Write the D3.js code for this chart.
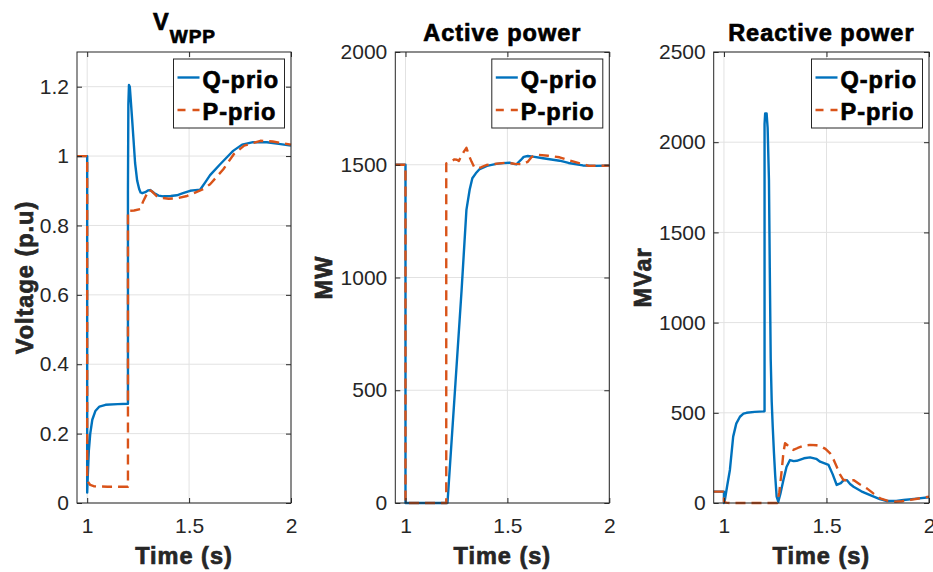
<!DOCTYPE html>
<html><head><meta charset="utf-8">
<script src="https://cdn.jsdelivr.net/npm/d3@7"></script>
<style>body{margin:0;background:#fff}</style>
</head><body><svg id="c" width="933" height="572"></svg>
<script>
// ---------- data ----------
const xDomain = [0.95, 2];
const xTicks = [1, 1.5, 2];
const voltTicks = [0, 0.2, 0.4, 0.6, 0.8, 1, 1.2];
const activeTicks = [0, 500, 1000, 1500, 2000];
const reactiveTicks = [0, 500, 1000, 1500, 2000, 2500];
const seriesNames = ["Q-prio", "P-prio"];

// [time (s), value]
const voltQ = [[0.95,1.0],[1.0,1.0],[1.0,0.03],[1.003,0.08],[1.008,0.15],[1.015,0.2],[1.025,0.24],[1.04,0.265],[1.06,0.278],[1.09,0.283],[1.15,0.285],[1.2,0.286],
 [1.2,0.9],[1.202,1.15],[1.205,1.205],[1.209,1.2],[1.214,1.16],[1.22,1.11],[1.227,1.05],[1.235,0.98],[1.245,0.93],[1.255,0.905],[1.262,0.895],[1.27,0.893],
 [1.285,0.896],[1.298,0.901],[1.309,0.902],[1.33,0.893],[1.35,0.886],[1.374,0.884],[1.41,0.885],[1.44,0.887],[1.47,0.893],[1.505,0.9],[1.53,0.902],[1.554,0.903],
 [1.58,0.925],[1.603,0.945],[1.65,0.975],[1.701,1.006],[1.716,1.015],[1.76,1.033],[1.814,1.04],[1.882,1.04],[1.94,1.035],[2.0,1.03]];
const voltP = [[0.95,1.0],[1.0,1.0],[1.0,0.066],[1.005,0.06],[1.015,0.052],[1.035,0.048],[1.1,0.047],[1.2,0.047],[1.2,0.842],[1.23,0.843],[1.26,0.847],
 [1.275,0.87],[1.292,0.89],[1.305,0.903],[1.32,0.897],[1.34,0.885],[1.358,0.88],[1.40,0.877],[1.44,0.878],[1.49,0.885],[1.538,0.897],[1.57,0.905],
 [1.603,0.919],[1.635,0.94],[1.668,0.962],[1.72,1.006],[1.77,1.03],[1.85,1.044],[1.91,1.042],[1.96,1.037],[2.0,1.033]];

const activeQ = [[0.95,1500],[1.0,1500],[1.0,0],[1.206,0],[1.245,530],[1.275,940],[1.299,1300],[1.315,1390],[1.328,1440],[1.345,1462],[1.364,1481],
 [1.40,1495],[1.446,1504],[1.48,1507],[1.511,1509],[1.53,1504],[1.544,1502],[1.565,1520],[1.58,1535],[1.6,1539],[1.625,1536],[1.675,1529],[1.756,1518],
 [1.8,1508],[1.87,1497],[1.93,1495],[2.0,1496]];
const activeP = [[0.95,1500],[1.0,1500],[1.0,0],[1.2,0],[1.2,1506],[1.22,1512],[1.24,1524],[1.252,1522],[1.262,1517],[1.272,1536],[1.285,1556],[1.299,1575],
 [1.312,1540],[1.324,1514],[1.336,1492],[1.348,1484],[1.37,1488],[1.397,1499],[1.45,1505],[1.495,1509],[1.54,1504],[1.576,1502],[1.601,1514],[1.62,1535],
 [1.642,1545],[1.7,1540],[1.756,1533],[1.8,1520],[1.9,1495],[2.0,1496]];

const reactiveQ = [[0.95,63],[1.0,63],[1.0,0],[1.005,20],[1.015,90],[1.029,183],[1.045,368],[1.06,440],[1.078,478],[1.095,495],[1.11,500],[1.15,505],[1.198,508],
 [1.198,2100],[1.201,2160],[1.208,2160],[1.213,2080],[1.2195,1790],[1.2235,1300],[1.228,800],[1.233,560],[1.238,420],[1.244,275],[1.25,150],[1.257,35],[1.265,7],
 [1.275,50],[1.29,127],[1.305,200],[1.322,238],[1.34,232],[1.355,234],[1.39,248],[1.42,253],[1.45,245],[1.469,229],[1.51,211],[1.53,160],[1.55,100],[1.57,110],
 [1.585,128],[1.599,127],[1.615,105],[1.632,90],[1.67,65],[1.713,44],[1.76,22],[1.795,11],[1.84,12],[1.876,17],[1.94,24],[2.0,32]];
const reactiveP = [[0.95,63],[1.0,63],[1.0,8],[1.01,2],[1.03,0],[1.26,0],[1.27,60],[1.282,183],[1.29,280],[1.298,331],[1.31,320],[1.325,300],[1.338,294],
 [1.36,305],[1.39,318],[1.42,322],[1.45,320],[1.469,316],[1.495,300],[1.518,275],[1.535,240],[1.55,201],[1.565,160],[1.583,127],[1.61,125],[1.632,127],
 [1.66,105],[1.697,81],[1.73,52],[1.762,26],[1.8,12],[1.827,7],[1.87,10],[1.909,17],[1.95,25],[2.0,35]];

// ---------- layout ----------
const FONT = '"Liberation Sans", Arial, Helvetica, sans-serif';
const TXT = '#262626';
const BLUE = '#0072BD', ORANGE = '#D95319';
const TOP = 52, BOTTOM = 503;
const panels = [
  {left:77, width:214, yMax:1.3, ticks:voltTicks, Q:voltQ, P:voltP, ylabel:"Voltage (p.u)", ylabX:33, title:null},
  {left:395.3, width:214, yMax:2000, ticks:activeTicks, Q:activeQ, P:activeP, ylabel:"MW", ylabX:332, title:"Active power"},
  {left:713.7, width:215.3, yMax:2500, ticks:reactiveTicks, Q:reactiveQ, P:reactiveP, ylabel:"MVar", ylabX:651, title:"Reactive power"}
];

const svg = d3.select('#c');
svg.append('rect').attr('width',933).attr('height',572).attr('fill','#fff');

panels.forEach(p => {
  const right = p.left + p.width;
  const x = d3.scaleLinear().domain(xDomain).range([p.left, right]);
  const y = d3.scaleLinear().domain([0, p.yMax]).range([BOTTOM, TOP]);
  const g = svg.append('g');

  // grid
  g.append('g').selectAll('line').data(p.ticks).join('line')
    .attr('x1', p.left).attr('x2', right).attr('y1', d => y(d)).attr('y2', d => y(d))
    .attr('stroke', '#e2e2e2').attr('stroke-width', 1);
  g.append('g').selectAll('line').data(xTicks).join('line')
    .attr('y1', TOP).attr('y2', BOTTOM).attr('x1', d => x(d)).attr('x2', d => x(d))
    .attr('stroke', '#e2e2e2').attr('stroke-width', 1);

  // lines
  const line = d3.line().x(d => x(d[0])).y(d => y(d[1]));
  g.append('path').attr('d', line(p.Q)).attr('fill','none').attr('stroke',BLUE)
    .attr('stroke-width',2.4).attr('stroke-linejoin','round');
  g.append('path').attr('d', line(p.P)).attr('fill','none').attr('stroke',ORANGE)
    .attr('stroke-width',2.4).attr('stroke-dasharray','10,6').attr('stroke-linejoin','round');

  // axes
  const styleAxis = sel => {
    sel.select('.domain').remove();
    sel.selectAll('.tick line').attr('stroke', TXT);
    sel.selectAll('.tick text').attr('fill', TXT).style('font-family', FONT).style('font-size','21px');
  };
  g.append('g').attr('transform',`translate(${p.left},0)`)
    .call(d3.axisLeft(y).tickValues(p.ticks).tickSizeInner(-5).tickSizeOuter(0).tickPadding(8).tickFormat(d => String(d)))
    .call(styleAxis);
  g.append('g').attr('transform',`translate(${right},0)`)
    .call(d3.axisRight(y).tickValues(p.ticks).tickSizeInner(-5).tickSizeOuter(0).tickFormat(''))
    .call(styleAxis);
  g.append('g').attr('transform',`translate(0,${BOTTOM})`)
    .call(d3.axisBottom(x).tickValues(xTicks).tickSizeInner(-5).tickSizeOuter(0).tickPadding(15).tickFormat(d => String(d)))
    .call(styleAxis);
  g.append('g').attr('transform',`translate(0,${TOP})`)
    .call(d3.axisTop(x).tickValues(xTicks).tickSizeInner(-5).tickSizeOuter(0).tickFormat(''))
    .call(styleAxis);
  g.append('rect').attr('x', p.left).attr('y', TOP).attr('width', p.width).attr('height', BOTTOM - TOP)
    .attr('fill','none').attr('stroke', TXT).attr('stroke-width', 1);

  const bold = (sel, col) => sel.attr('fill', col).attr('stroke', col).attr('stroke-width', 0.7)
    .style('font-family', FONT).style('font-weight','bold')
    .style('font-size','23.5px').style('letter-spacing','1px');

  // x label
  g.append('text').attr('x', (p.left + right)/2).attr('y', 564).attr('text-anchor','middle')
    .text('Time (s)').call(bold, TXT);
  // y label
  g.append('text').attr('transform',`translate(${p.ylabX},${(TOP+BOTTOM)/2}) rotate(-90)`)
    .attr('text-anchor','middle').text(p.ylabel).call(bold, TXT);
  // title
  if (p.title) {
    g.append('text').attr('x', (p.left + right)/2).attr('y', 41).attr('text-anchor','middle')
      .text(p.title).call(bold, '#000');
  } else {
    const t = g.append('text').attr('x', (p.left + right)/2 + 0.5).attr('y', 30).attr('text-anchor','middle').call(bold, '#000');
    t.append('tspan').text('V');
    t.append('tspan').attr('dy', 13).style('font-size','19px').text('WPP');
  }

  // legend
  const lw = 111, lh = 69;
  const lx = right - 6.5 - lw, ly = TOP + 7;
  const leg = g.append('g');
  leg.append('rect').attr('x', lx).attr('y', ly).attr('width', lw).attr('height', lh)
    .attr('fill','#fff').attr('stroke', TXT).attr('stroke-width', 1);
  const rows = [{name: seriesNames[0], color: BLUE, dash: null, ly: 18.5, ty: 29.3},
                {name: seriesNames[1], color: ORANGE, dash: '8,7', ly: 51, ty: 61.3}];
  rows.forEach(r => {
    leg.append('line').attr('x1', lx + 4).attr('x2', lx + 26).attr('y1', ly + r.ly).attr('y2', ly + r.ly)
      .attr('stroke', r.color).attr('stroke-width', 2.4).attr('stroke-dasharray', r.dash);
    leg.append('text').attr('x', lx + 29).attr('y', ly + r.ty).text(r.name).call(bold, '#000');
  });
});
</script>
</body></html>
